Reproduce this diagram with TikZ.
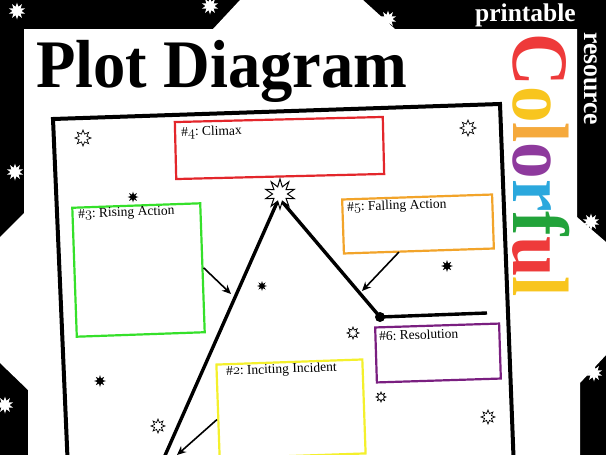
\documentclass[tikz,border=0pt]{standalone}
\usepackage{graphicx}
\usepackage{fontspec}
\newfontfamily\headfont{Liberation Serif}
\usetikzlibrary{shapes.geometric,arrows.meta,calc}
\definecolor{cred}{HTML}{E3262B}
\definecolor{cgreen}{HTML}{35E02A}
\definecolor{corange}{HTML}{F2A42A}
\definecolor{cpurple}{HTML}{7A1F80}
\definecolor{cyellow}{HTML}{F4F02C}
\definecolor{lred}{HTML}{EE3A3A}
\definecolor{lyellow}{HTML}{F8C51E}
\definecolor{lorange}{HTML}{F5A93C}
\definecolor{lpurple}{HTML}{8E3A9D}
\definecolor{lblue}{HTML}{2BA8DD}
\definecolor{lgreen}{HTML}{22A33A}
\newcommand{\osn}[1]{{\usefont{OML}{cmm}{m}{it}#1}}
\begin{document}
\begin{tikzpicture}[x=1pt,y=-1pt,
  box/.style={draw, line width=2.2pt, inner sep=0},
  lab/.style={font=\headfont\frenchspacing\fontsize{13.5}{14}\selectfont, inner sep=0, anchor=west},
  bstar/.style={star, star points=10, star point ratio=1.9, fill=white, inner sep=0, minimum size=17pt},
  ostar/.style={star, star points=8, star point ratio=1.9, draw=black, line width=0.7pt, fill=white, inner sep=0},
  fstar/.style={star, star points=8, star point ratio=2.2, fill=black, inner sep=0},
  arr/.style={-{Stealth[length=9pt,width=8pt]}, line width=1.6pt},
  plotline/.style={line width=3.4pt, line join=round}]
\useasboundingbox (0,0) rectangle (606,455);
\clip (0,0) rectangle (606,455);
% background
\fill[black] (0,0) rectangle (606,455);
\fill[white] (24,29) -- (213,29) -- (240,0) -- (363,0) -- (395,29) -- (577,29) -- (577,217) -- (606,242) -- (606,355) -- (580,383) -- (580,455) -- (28,455) -- (28,390) -- (0,363) -- (0,237) -- (24,213) -- cycle;
% white stars on black
\node[bstar] (w1) at (17,11) {};
\node[bstar] (w2) at (210,6) {};
\node[bstar] (w3) at (388,19) {};
\node[bstar] (w4) at (15,172) {};
\node[bstar] (w5) at (5,405) {};
\node[bstar] (w6) at (591,222) {};
\node[bstar] (w7) at (594,373) {};
% texts
\node[anchor=base west, inner sep=0, font=\headfont\bfseries\fontsize{68}{68}\selectfont] (title) at (36,87) {\scalebox{0.95}[1]{Plot Diagram}};
\node[anchor=base west, inner sep=0, text=white, font=\headfont\bfseries\fontsize{25.5}{25.5}\selectfont] (printable) at (475,21) {printable};
\node[rotate=-90, anchor=base west, inner sep=0, text=white, font=\headfont\bfseries\fontsize{27}{27}\selectfont] (resource) at (584,32) {\scalebox{0.95}[1]{resource}};
\node[rotate=-90, anchor=base west, inner sep=0, font=\headfont\bfseries\fontsize{80}{80}\selectfont] (colorful) at (513,33) {\scalebox{0.914}[1]{\textcolor{lred}{C}\textcolor{lyellow}{o}\textcolor{lorange}{l}\textcolor{lpurple}{o}\textcolor{lblue}{r}\textcolor{lgreen}{f}\textcolor{lred}{u}\textcolor{lyellow}{l}}};
% frame
\draw[line width=4pt, line join=miter] (53,119) -- (500,104) -- (514,470) -- (68,470) -- cycle;
% boxes
\node[box, draw=cred, minimum width=208pt, minimum height=57pt, rotate=1.4] (climax) at (279.5,148) {};
\node[box, draw=cgreen, minimum width=128pt, minimum height=129pt, rotate=2] (rising) at (138.5,270) {};
\node[box, draw=corange, minimum width=150pt, minimum height=54pt, rotate=1.9] (falling) at (418,224) {};
\node[box, draw=cpurple, minimum width=124pt, minimum height=55pt, rotate=1.8] (resolution) at (438,353) {};
\node[box, draw=cyellow, minimum width=146pt, minimum height=94pt, rotate=2] (inciting) at (291,409) {};
% labels
\node[lab, rotate=1.4] (climaxlab) at (181,133) {\#\osn{4}: Climax};
\node[lab, rotate=2] (risinglab) at (78,215) {\#\osn{3}: Rising Action};
\node[lab, rotate=1.9] (fallinglab) at (347,208) {\#\osn{5}: Falling Action};
\node[lab, rotate=1.8] (resolutionlab) at (379,336) {\#6: Resolution};
\node[lab, rotate=2] (incitinglab) at (226,372) {\#\osn{2}: Inciting Incident};
% plot line
\coordinate (pstart) at (163,460);
\coordinate (apex) at (279,198);
\coordinate (pend) at (487,313);
\node[circle, fill=black, inner sep=0, minimum size=10pt] (turn) at (380,317) {};
\draw[plotline] (pstart) -- (apex) -- (turn.center) -- (pend);
\node[ostar, star points=10, star point ratio=2, minimum size=30pt, line width=1pt] (peak) at (280,194) {};
% arrows
\coordinate (risept) at (231,294);
\coordinate (fallpt) at (362,291);
\coordinate (incpt) at (177,455);
\draw[arr] (rising.east) -- (risept);
\draw[arr] ([xshift=-20pt]falling.south) -- (fallpt);
\draw[arr] ([yshift=-8pt]inciting.west) -- (incpt);
% decorative stars
\node[ostar, minimum size=16pt] (s1) at (83,138) {};
\node[ostar, minimum size=16pt] (s2) at (468,128) {};
\node[ostar, minimum size=12pt] (s3) at (353,333) {};
\node[ostar, minimum size=10pt] (s4) at (381,397) {};
\node[ostar, minimum size=14pt] (s5) at (488,417) {};
\node[ostar, minimum size=14pt] (s6) at (158,426) {};
\node[fstar, minimum size=11pt] (f1) at (133,197) {};
\node[fstar, minimum size=10pt] (f2) at (262,286) {};
\node[fstar, minimum size=12pt] (f3) at (447,266) {};
\node[fstar, minimum size=12pt] (f4) at (100,381) {};
\end{tikzpicture}
\end{document}
